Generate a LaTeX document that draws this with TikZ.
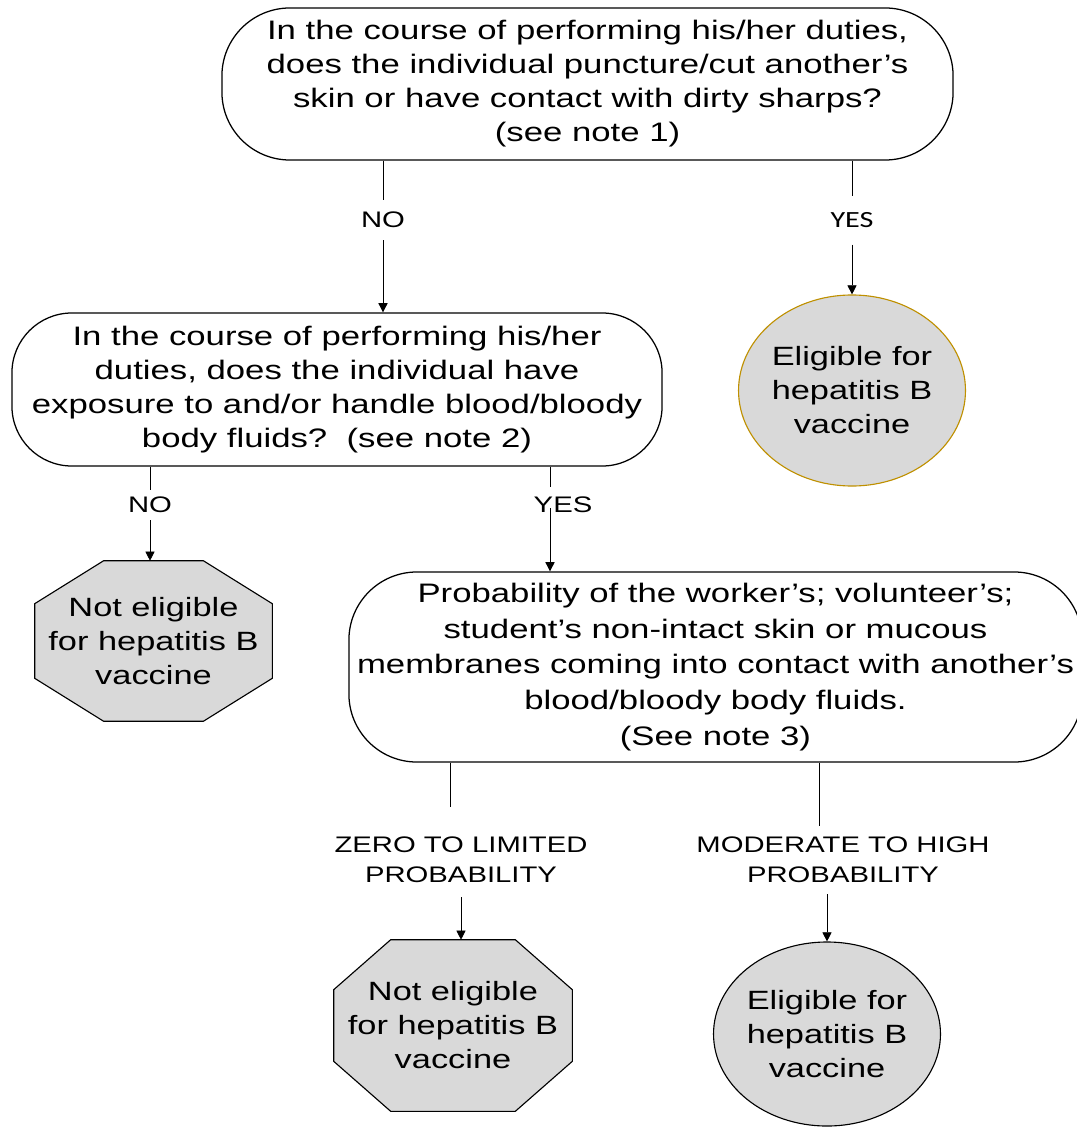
\documentclass[tikz,border=0pt]{standalone}
\usepackage{fontspec}
\setmainfont[FakeStretch=1.3]{Liberation Sans}
\newfontfamily\yesfont[FakeStretch=1.3]{Carlito}
\usetikzlibrary{arrows.meta, positioning, shapes.geometric, calc, backgrounds}
\definecolor{goldedge}{HTML}{BF9000}
\definecolor{endfill}{HTML}{D9D9D9}
% octagon round a node: #1 node, #2 corner cut in x, #3 corner cut in y
\newcommand{\octoutline}[3]{%
  \begin{scope}[on background layer]
    \draw[octline] ($(#1.north west)+(#2,0)$) -- ($(#1.north east)+(-#2,0)$)
      -- ($(#1.north east)+(0,#3)$) -- ($(#1.south east)+(0,-#3)$)
      -- ($(#1.south east)+(-#2,0)$) -- ($(#1.south west)+(#2,0)$)
      -- ($(#1.south west)+(0,-#3)$) -- ($(#1.north west)+(0,#3)$) -- cycle;
  \end{scope}}

\begin{document}
\begin{tikzpicture}[x=0.025cm, y=-0.025cm,
  qbox/.style={rectangle, rounded corners=1.7cm, draw=black, line width=0.9pt,
    align=center, inner sep=0pt, font=\fontsize{19}{24.2}\selectfont},
  endoval/.style={ellipse, draw=black, line width=0.8pt, fill=endfill,
    align=center, inner sep=0pt, font=\fontsize{18.8}{24.2}\selectfont},
  endoct/.style={rectangle, align=center, inner sep=0pt,
    font=\fontsize{18.8}{24.2}\selectfont},
  octline/.style={draw=black, line width=0.8pt, fill=endfill},
  lbl/.style={align=center, inner xsep=2pt, font=\fontsize{16}{21.3}\selectfont},
  line/.style={line width=0.6pt},
  arr/.style={line, -{Triangle[length=6.5pt, width=6.5pt]}},
]
\useasboundingbox (0,0) rectangle (1076,1128);
% ====== QUESTIONS ======
\node[qbox, minimum width=18.275cm, minimum height=3.8cm] (q1) at (587.5,84)
  {In the course of performing his/her duties,\\does the individual puncture/cut another’s\\skin or have contact with dirty sharps?\\(see note 1)};
\node[qbox, rounded corners=1.5cm, minimum width=16.25cm, minimum height=3.825cm] (q2) at (337,389.5)
  {In the course of performing his/her\\duties, does the individual have\\exposure to and/or handle blood/bloody\\body fluids?~~(see note 2)};
\node[qbox, font=\fontsize{19}{25.4}\selectfont, minimum width=18.325cm, minimum height=4.75cm] (q3) at (715.5,667)
  {Probability of the worker’s; volunteer’s;\\student’s non-intact skin or mucous\\membranes coming into contact with another’s\\blood/bloody body fluids.\\(See note 3)};
% ====== OUTCOMES ======
\node[endoval, draw=goldedge, minimum width=5.65cm, minimum height=4.775cm] (e1) at (852,390.5)
  {Eligible for\\hepatitis B\\vaccine};
\node[endoct, minimum width=5.925cm, minimum height=4cm] (o1) at (153.5,641)
  {Not eligible\\for hepatitis B\\vaccine};
\octoutline{o1}{69}{43}
\node[endoct, minimum width=5.95cm, minimum height=4.275cm] (o2) at (453,1025.5)
  {Not eligible\\for hepatitis B\\vaccine};
\octoutline{o2}{57}{50}
\node[endoval, minimum width=5.625cm, minimum height=4.6cm] (e2) at (827,1034)
  {Eligible for\\hepatitis B\\vaccine};
% ====== BRANCH LABELS ======
\node[lbl, inner ysep=8.5pt] (l_no1) at (383,220) {NO};
\node[lbl, font=\yesfont\fontsize{16.5}{20}\selectfont, inner ysep=11.5pt] (l_yes1) at (852,220.5) {YES};
\node[lbl, inner ysep=4.9pt] (l_no2) at (150,505) {NO};
\node[lbl] (l_yes2) at (563,505) {YES};
\node[lbl, inner ysep=10pt] (l_zero) at (461,860) {ZERO TO LIMITED\\PROBABILITY};
\node[lbl, inner ysep=8pt] (l_mod) at (843,860) {MODERATE TO HIGH\\PROBABILITY};
\coordinate (c_yes2) at (550,487);
\coordinate (c_yes2b) at (550,508);
\coordinate (c_zero) at (450,807);
\coordinate (c_mod) at (819,0);
% ====== CONNECTORS ======
\draw[line] (q1.south -| l_no1) -- (l_no1.north);
\draw[arr] (l_no1.south) -- (l_no1 |- q2.north);
\draw[line] (q1.south -| l_yes1) -- (l_yes1.north);
\draw[arr] (l_yes1.south) -- (e1.north);
\draw[line] (q2.south -| l_no2) -- (l_no2.north);
\draw[arr] (l_no2.south) -- (l_no2 |- o1.north);
\draw[line] (q2.south -| c_yes2) -- (c_yes2);
\draw[arr] (c_yes2b) -- (c_yes2b |- q3.north);
\draw[line] (q3.south -| c_zero) -- (c_zero);
\draw[arr] (l_zero.south) -- (l_zero.south |- o2.north);
\draw[line] (q3.south -| c_mod) -- (l_mod.north -| c_mod);
\draw[arr] (l_mod.south -| e2) -- (e2.north);
\end{tikzpicture}
\end{document}
